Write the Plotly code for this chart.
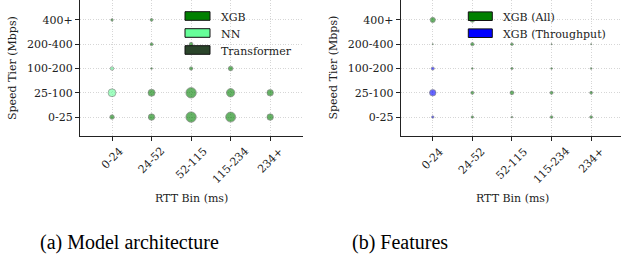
import plotly.graph_objects as go

# ---------------- data ----------------
rtt_bins = ["0-24", "24-52", "52-115", "115-234", "234+"]
speed_tiers = ["0-25", "25-100", "100-200", "200-400", "400+"]

# panel (a): cell value (bubble area) per speed tier row, per RTT bin column
cell_value_a = [
    [20, 42, 110, 100, 42],      # 0-25
    [62, 50, 110, 70, 42],       # 25-100
    [13, 3, 11, 22, None],       # 100-200
    [None, 9, 14, None, None],   # 200-400
    [6, 8, None, None, None],    # 400+
]
best_model_a = [
    ["XGB", "XGB", "XGB", "XGB", "XGB"],
    ["NN", "XGB", "XGB", "XGB", "XGB"],
    ["NN", "XGB", "XGB", "XGB", "XGB"],
    ["XGB", "XGB", "XGB", "XGB", "XGB"],
    ["XGB", "XGB", "XGB", "XGB", "XGB"],
]
models_a = ["XGB", "NN", "Transformer"]

# panel (b)
cell_value_b = [
    [6, 6, 3, 8, 8],             # 0-25
    [42, 10, 15, 10, 8],         # 25-100
    [10, 3, 5, 3, 3],            # 100-200
    [1.5, 11, 7, 1.5, 1.5],      # 200-400
    [26, 22, None, None, None],  # 400+
]
best_model_b = [
    ["XGB (Throughput)", "XGB (All)", "XGB (All)", "XGB (All)", "XGB (All)"],
    ["XGB (Throughput)", "XGB (All)", "XGB (All)", "XGB (All)", "XGB (All)"],
    ["XGB (Throughput)", "XGB (All)", "XGB (All)", "XGB (All)", "XGB (All)"],
    ["XGB (All)", "XGB (All)", "XGB (All)", "XGB (All)", "XGB (All)"],
    ["XGB (All)", "XGB (All)", "XGB (All)", "XGB (All)", "XGB (All)"],
]
models_b = ["XGB (All)", "XGB (Throughput)"]

captions = ["(a) Model architecture", "(b) Features"]
x_title = "RTT Bin (ms)"
y_title = "Speed Tier (Mbps)"

# ---------------- styles ----------------
colors = {
    "XGB": "#008000",
    "NN": "#66ff99",
    "Transformer": "#2b452b",
    "XGB (All)": "#008000",
    "XGB (Throughput)": "#0000ff",
}
W, H = 621, 258
PLOT_H = 136
FONT = "'DejaVu Serif', serif"
CAP_FONT = "'Liberation Serif', 'Times New Roman', serif"
GRID = "#cccccc"
AX = "#222222"

fig = go.Figure()


def add_panel(values, winners, models, xa, ya):
    for m in models:
        xs, ys, ss = [], [], []
        for i, tier in enumerate(speed_tiers):
            for j, rb in enumerate(rtt_bins):
                v = values[i][j]
                if v is None or winners[i][j] != m:
                    continue
                xs.append(rb)
                ys.append(tier)
                ss.append(v)
        fig.add_trace(go.Scatter(
            x=xs, y=ys, mode="markers", name=m, xaxis=xa, yaxis=ya,
            showlegend=False, hoverinfo="skip",
            marker=dict(size=ss, sizemode="area", sizeref=2, color=colors[m],
                        opacity=0.6, line=dict(color="#444444", width=0.7)),
        ))


add_panel(cell_value_a, best_model_a, models_a, "x", "y")
add_panel(cell_value_b, best_model_b, models_b, "x2", "y2")

common_axis = dict(
    showgrid=True, gridcolor=GRID, gridwidth=0.8, griddash="1px,1.6px",
    showline=True, linecolor=AX, linewidth=1, mirror=False,
    ticks="outside", ticklen=4, tickwidth=1, tickcolor=AX,
    zeroline=False, type="category",
    tickfont=dict(family=FONT, size=11, color=AX),
)

fig.update_layout(
    width=W, height=H,
    margin=dict(l=0, r=0, t=0, b=H - PLOT_H, pad=0),
    paper_bgcolor="white", plot_bgcolor="white",
    showlegend=False,
    xaxis=dict(domain=[80 / W, 303 / W], range=[-0.81, 4.83],
               categoryorder="array", categoryarray=rtt_bins,
               showticklabels=False, anchor="y", **common_axis),
    yaxis=dict(domain=[0, 1], range=[-0.78, 4.82],
               categoryorder="array", categoryarray=speed_tiers,
               anchor="x", **common_axis),
    xaxis2=dict(domain=[400.7 / W, 1], range=[-0.81, 4.755],
                categoryorder="array", categoryarray=rtt_bins,
                showticklabels=False, anchor="y2", **common_axis),
    yaxis2=dict(domain=[0, 1], range=[-0.78, 4.82],
                categoryorder="array", categoryarray=speed_tiers,
                anchor="x2", **common_axis),
)


def py(px):
    return (PLOT_H - px) / PLOT_H


annotations = []
for xr in ["x", "x2"]:
    for rb in rtt_bins:
        annotations.append(dict(
            x=rb, xref=xr, y=py(143.5), yref="paper", text=rb, showarrow=False,
            textangle=-45, xanchor="center", yanchor="top",
            font=dict(family=FONT, size=11, color=AX), borderpad=0,
        ))

for cx in [191.5, 512]:
    annotations.append(dict(x=cx / W, y=py(198.5), xref="paper", yref="paper",
                            text=x_title, showarrow=False, xanchor="center",
                            yanchor="middle", font=dict(family=FONT, size=11, color=AX)))
for cx in [12, 332.5]:
    annotations.append(dict(x=cx / W, y=py(68), xref="paper", yref="paper",
                            text=y_title, showarrow=False, textangle=-90,
                            xanchor="center", yanchor="middle",
                            font=dict(family=FONT, size=11, color=AX)))
for cx, cap in zip([129.5, 399.5], captions):
    annotations.append(dict(x=cx / W, y=py(242), xref="paper", yref="paper",
                            text=cap, showarrow=False, xanchor="center",
                            yanchor="middle",
                            font=dict(family=CAP_FONT, size=20, color="black")))

# legend patches (drawn manually as rectangles + labels)
shapes = []
legend_specs = [
    (models_a, 185, 210, [16, 33, 50]),
    (models_b, 468.3, 492.3, [16.2, 33.2]),
]
for models, x0, x1, ycs in legend_specs:
    for m, yc in zip(models, ycs):
        shapes.append(dict(type="rect", xref="paper", yref="paper",
                           x0=x0 / W, x1=x1 / W, y0=py(yc - 4.3), y1=py(yc + 4.3),
                           fillcolor=colors[m], line=dict(color="#111111", width=1),
                           layer="above"))
        annotations.append(dict(x=(x1 + 9) / W, y=py(yc + 1), xref="paper", yref="paper",
                                text=m, showarrow=False, xanchor="left", yanchor="middle",
                                font=dict(family=FONT, size=11, color=AX)))

fig.update_layout(annotations=annotations, shapes=shapes)
fig.write_html("out.html", config={"displayModeBar": False, "staticPlot": True},
               post_script="document.body.style.margin='0';")
